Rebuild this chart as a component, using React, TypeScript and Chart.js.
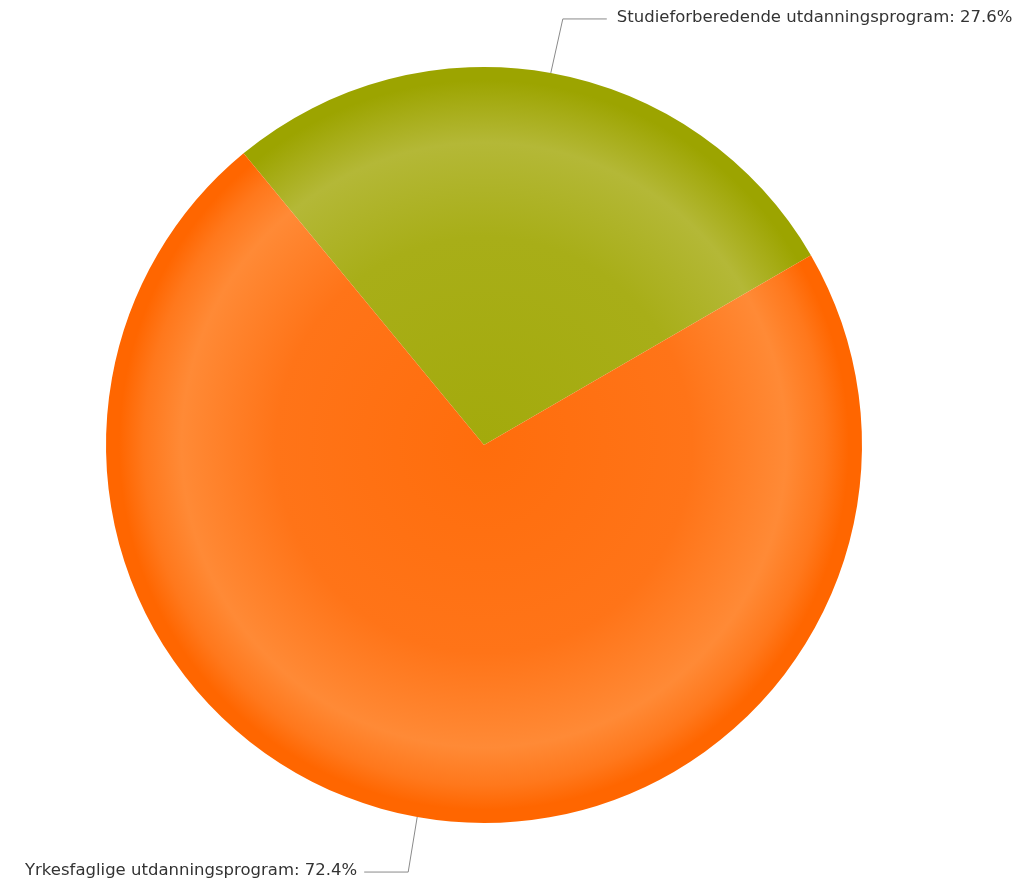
import React, { useEffect, useRef } from "react";
import { Chart, registerables } from "chart.js";
Chart.register(...registerables);

const categories = ["Studieforberedende utdanningsprogram", "Yrkesfaglige utdanningsprogram"];
const values = [27.6, 72.4];
// [center, mid, light band, near-edge, edge]
const baseColors = [
  ["#a3aa0c", "#a8ae18", "#b4b837", "#a6ac16", "#9ca400"],
  ["#ff6d0c", "#ff7418", "#ff8a36", "#ff781c", "#ff6600"],
];

const labelPlugin = {
  id: "leaderLabels",
  afterDraw(chart: any) {
    const ctx = chart.ctx;
    const meta = chart.getDatasetMeta(0);
    ctx.save();
    ctx.font = "15px 'DejaVu Sans'";
    ctx.fillStyle = "#333";
    ctx.strokeStyle = "#8a8a8a";
    ctx.lineWidth = 1;
    meta.data.forEach((arc: any, i: number) => {
      const mid = (arc.startAngle + arc.endAngle) / 2;
      const r = arc.outerRadius;
      const sx = arc.x + Math.cos(mid) * r;
      const sy = arc.y + Math.sin(mid) * r;
      const up = Math.sin(mid) < 0;
      const ex = sx + (up ? 12 : -9);
      const ey = sy + (up ? -54 : 55);
      const hx = ex + (up ? 44 : -44);
      ctx.beginPath();
      ctx.moveTo(sx, sy);
      ctx.lineTo(ex, ey);
      ctx.lineTo(hx, ey);
      ctx.stroke();
      const text = `${categories[i]}: ${values[i].toFixed(1)}%`;
      ctx.textBaseline = "middle";
      const sxScale = 1.1;
      const w = ctx.measureText(text).width * sxScale;
      const tx = up ? hx + 10 : hx - 7 - w;
      ctx.save();
      ctx.translate(tx, ey - 1);
      ctx.scale(sxScale, 1);
      ctx.textAlign = "left";
      ctx.fillText(text, 0, 0);
      ctx.restore();
    });
    ctx.restore();
  },
};

export default function App() {
  const ref = useRef<HTMLCanvasElement>(null);
  useEffect(() => {
    document.body.style.margin = "0";
    const chart = new Chart(ref.current!, {
      type: "pie",
      data: {
        labels: categories,
        datasets: [
          {
            data: values,
            borderWidth: 0,
            backgroundColor: (c: any) => {
              const ch = c.chart;
              const area = ch.chartArea;
              if (!area) return baseColors[c.dataIndex][0];
              const cx = (area.left + area.right) / 2;
              const cy = (area.top + area.bottom) / 2;
              const r = Math.min(area.right - area.left, area.bottom - area.top) / 2;
              const g = ch.ctx.createRadialGradient(cx, cy, 0, cx, cy, r);
              const col = baseColors[c.dataIndex];
              g.addColorStop(0, col[0]);
              g.addColorStop(0.55, col[1]);
              g.addColorStop(0.8, col[2]);
              g.addColorStop(0.9, col[3]);
              g.addColorStop(0.965, col[4]);
              g.addColorStop(1, col[4]);
              return g;
            },
          },
        ],
      },
      options: {
        responsive: true,
        maintainAspectRatio: false,
        animation: false,
        rotation: -39.5,
        layout: { padding: { left: 106, right: 161, top: 67, bottom: 65 } },
        plugins: { legend: { display: false }, tooltip: { enabled: false } },
      },
      plugins: [labelPlugin],
    });
    return () => chart.destroy();
  }, []);
  return (
    <div style={{ position: "absolute", left: 0, top: 0, width: 1023, height: 888 }}>
      <canvas ref={ref} />
    </div>
  );
}
